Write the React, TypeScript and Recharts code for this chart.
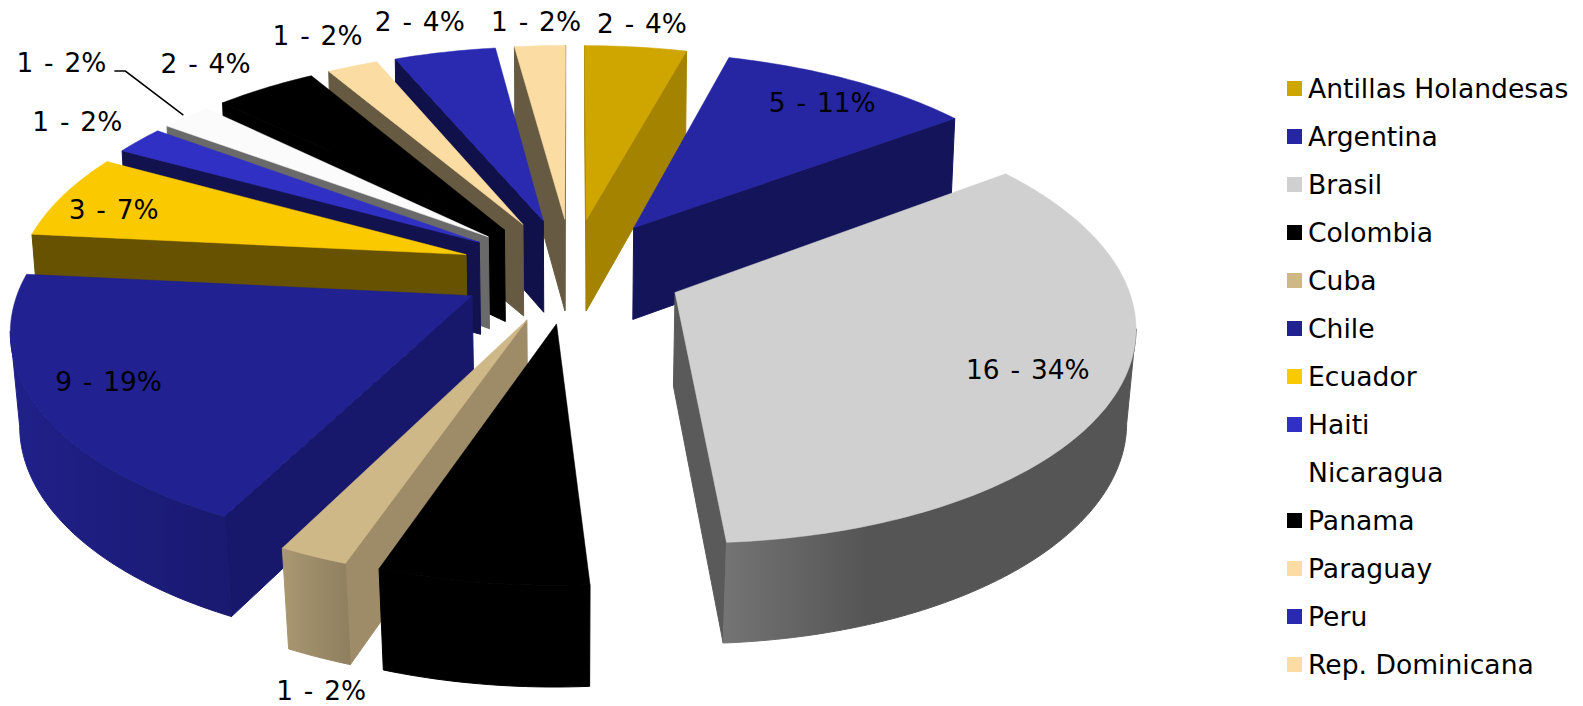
import React from 'react';
import { PieChart, Pie, Legend } from 'recharts';

const countries = [
  'Antillas Holandesas', 'Argentina', 'Brasil', 'Colombia', 'Cuba', 'Chile', 'Ecuador',
  'Haiti', 'Nicaragua', 'Panama', 'Paraguay', 'Peru', 'Rep. Dominicana',
];
const counts = [2, 5, 16, 3, 1, 9, 3, 1, 1, 2, 1, 2, 1];
const percents = [4, 11, 34, 7, 2, 19, 7, 2, 2, 4, 2, 4, 2];

const topColors = [
  '#cfa600', '#2626a2', '#d0d0d0', '#000000', '#cfb887', '#212191', '#fbc900',
  '#3030c4', '#fbfbfb', '#000000', '#fbdca2', '#2a2ab0', '#fbdca2',
];
const sideColors = [
  '#a38300', '#14145a', '#5a5a5a', '#000000', '#9e8c69', '#17176b', '#665200',
  '#12124f', '#6a6a6a', '#000000', '#665a42', '#10104a', '#665a42',
];
const legendColors = topColors.map((c, i) => (countries[i] === 'Nicaragua' ? '#ffffff' : c));

// curved outer wall: left colour, right colour, where the fade ends
const wallFades: Record<string, [string, string, string]> = {
  Brasil: ['#747474', '#555555', '35%'],
  Chile: ['#20208a', '#191970', '100%'],
  Cuba: ['#a89770', '#8f7f5f', '100%'],
};

// back to front, so nearer slices cover the walls of the ones behind them
const paintOrder = [12, 11, 10, 9, 8, 7, 6, 5, 4, 0, 1, 2, 3];

// label position relative to the middle of each slice's rim; Colombia's is black on black
const labelNudges: ([number, number] | null)[] = [
  [6, -23], [-28, 23], [-91, -20], null, [8, 134], [71, -26], [51, 14],
  [-62, -19], [-125, -55], [-60, -24], [-35, -31], [-25, -31], [-4, -24],
];

const rows = countries.map((name, i) => ({ name, value: counts[i] }));

const FONT = '"DejaVu Sans", Verdana, sans-serif';
const EXPLODE = 0.25;
const PERSPECTIVE = 0.135;
const TILT = 0.469;

const rad = (deg: number) => (deg * Math.PI) / 180;

// maps a point of the pie plane (clockwise degrees from the far side) to the screen
const placer = (props: any) => {
  const { cx, cy, outerRadius: R, startAngle, endAngle } = props;
  const from = 90 - startAngle;
  const to = 90 - endAngle;
  const mid = (from + to) / 2;
  const place = (deg: number, r: number) => {
    const u = r * Math.sin(rad(deg)) + EXPLODE * Math.sin(rad(mid));
    const v = r * Math.cos(rad(deg)) + EXPLODE * Math.cos(rad(mid));
    const w = 1 + PERSPECTIVE * v;
    const x = cx + (R * u) / w;
    const y = cy - (R * TILT * v) / w;
    // the base of the wall leans in towards the middle, more so near the viewer
    return { x, y, lowX: x + (cx - x) * (0.015 - 0.006 * v), lowY: y + 93 - 7 * v };
  };
  return { from, to, mid, place };
};

type Pt = ReturnType<ReturnType<typeof placer>['place']>;

const polygon = (top: Pt[]) =>
  [...top.map((p) => `${p.x},${p.y}`), ...[...top].reverse().map((p) => `${p.lowX},${p.lowY}`)].join(' ');

const Slice = (props: any) => {
  const { from, to, place } = placer(props);
  const index = countries.indexOf(props.name);
  const top = topColors[index];
  const side = sideColors[index];
  const fade = wallFades[props.name];

  const tip = place(0, 0);
  const steps = Math.ceil(to - from);
  const arc: Pt[] = [];
  for (let i = 0; i <= steps; i++) arc.push(place(from + ((to - from) * i) / steps, 1));

  // going clockwise, an edge that runs leftwards has its wall facing the viewer
  const run = arc.filter((p, i) => {
    const next = arc[i + 1];
    const prev = arc[i - 1];
    return (next && p.x > next.x) || (prev && prev.x > p.x);
  });
  const gradientId = `wall-${index}`;
  const wallFill = fade ? `url(#${gradientId})` : side;

  return (
    <g>
      {fade && (
        <defs>
          <linearGradient id={gradientId} x1="0" y1="0" x2="1" y2="0">
            <stop offset="0%" stopColor={fade[0]} />
            <stop offset={fade[2]} stopColor={fade[1]} />
          </linearGradient>
        </defs>
      )}
      {tip.x > arc[0].x && (
        <polygon points={polygon([tip, arc[0]])} fill={side} stroke={side} strokeWidth={1} />
      )}
      {arc[steps].x > tip.x && (
        <polygon points={polygon([arc[steps], tip])} fill={side} stroke={side} strokeWidth={1} />
      )}
      {run.length > 1 && (
        <polygon points={polygon(run)} fill={wallFill} stroke={wallFill} strokeWidth={1} />
      )}
      <polygon points={[tip, ...arc].map((p) => `${p.x},${p.y}`).join(' ')} fill={top} stroke={top} strokeWidth={0.5} />
    </g>
  );
};

const SliceLabel = (props: any) => {
  const index = countries.indexOf(props.name);
  const nudge = labelNudges[index];
  if (!nudge) return <g />;
  const { mid, place } = placer(props);
  const rim = place(mid, 1);
  const x = rim.x + nudge[0];
  const y = rim.y + nudge[1];
  return (
    <g>
      {props.name === 'Nicaragua' && (
        <polyline
          points={`${rim.x - 3},${rim.y - 2} ${x + 64},${y + 9} ${x + 53},${y + 9}`}
          fill="none"
          stroke="#000"
          strokeWidth={1.5}
        />
      )}
      <text
        x={x}
        y={y}
        textAnchor="middle"
        dominantBaseline="central"
        fontFamily={FONT}
        fontSize={26.4}
        wordSpacing={2.5}
        fill="#000"
      >
        {`${counts[index]} - ${percents[index]}%`}
      </text>
    </g>
  );
};

const CountryLegend = () => (
  <div style={{ fontFamily: FONT, fontSize: 26.6, color: '#000' }}>
    {countries.map((name, i) => (
      <div key={name} style={{ display: 'flex', alignItems: 'center', height: 48, whiteSpace: 'nowrap' }}>
        <span style={{ width: 15, height: 15, marginRight: 6, background: legendColors[i] }} />
        {name}
      </div>
    ))}
  </div>
);

export default function App() {
  return (
    <div style={{ position: 'absolute', left: 0, top: 0, width: 1583, height: 706, background: '#fff' }}>
      <PieChart width={1583} height={706} margin={{ top: 0, right: 0, bottom: 0, left: 0 }}>
        {paintOrder.map((sliceIndex, order) => (
          <Pie
            key={sliceIndex}
            data={rows}
            dataKey="value"
            nameKey="name"
            cx={572}
            cy={270}
            outerRadius={448}
            startAngle={90}
            endAngle={-270}
            stroke="none"
            isAnimationActive={false}
            shape={(props: any) => (props.name === countries[sliceIndex] ? <Slice {...props} /> : <g />)}
            label={order === paintOrder.length - 1 ? (props: any) => <SliceLabel {...props} /> : false}
            labelLine={false}
          />
        ))}
        <Legend
          layout="vertical"
          align="center"
          content={() => <CountryLegend />}
          wrapperStyle={{ left: 1287, top: 64, width: 296 }}
        />
      </PieChart>
    </div>
  );
}
